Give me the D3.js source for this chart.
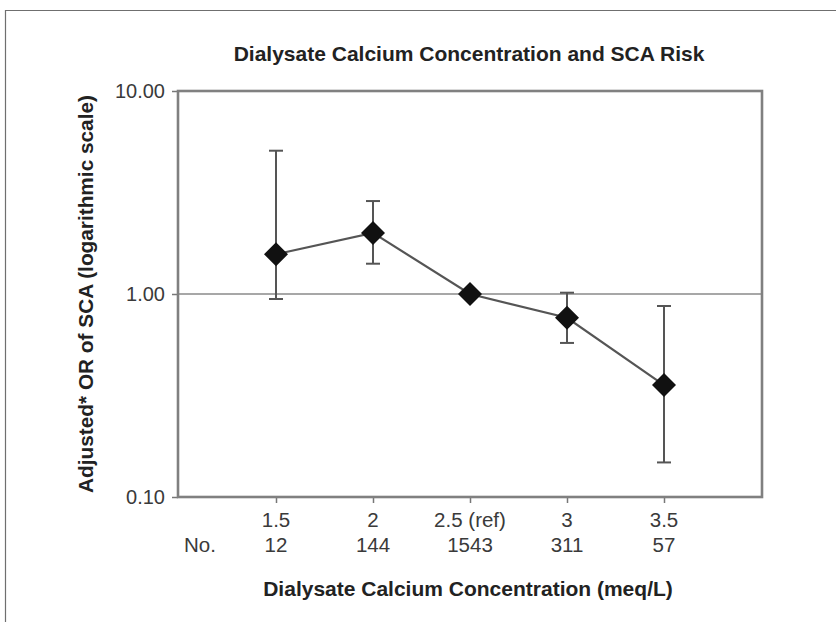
<!DOCTYPE html>
<html><head><meta charset="utf-8">
<script src="https://cdn.jsdelivr.net/npm/d3@7"></script>
<style>body{margin:0;background:#fff}svg{display:block}</style>
</head><body>
<script>
const categories = [1.5, 2, 2.5, 3, 3.5];
const catLabels = ["1.5", "2", "2.5 (ref)", "3", "3.5"];
const counts = ["12", "144", "1543", "311", "57"];
const orValues = [1.57, 2.0, 1.0, 0.764, 0.356];
const lowerCI = [0.945, 1.41, null, 0.574, 0.148];
const upperCI = [5.08, 2.87, null, 1.015, 0.873];
const yTicks = [0.1, 1, 10];

const W = 836, H = 622;
const box = {left: 178, right: 762, top: 91, bottom: 497};
const font = "'Liberation Sans', Arial, Helvetica, sans-serif";

const svg = d3.select("body").append("svg").attr("width", W).attr("height", H);

// outer frame (top + left)
svg.append("path").attr("d", `M5.5,${H} V10.5 H${W}`).attr("fill", "none")
  .attr("stroke", "#6f6f6f").attr("stroke-width", 1.2);

const x = d3.scaleLinear().domain([1, 4]).range([box.left + 1, box.right - 1]);
const y = d3.scaleLog().domain([0.1, 10]).range([box.bottom, box.top]);

// reference line at 1
svg.append("line").attr("x1", box.left).attr("x2", box.right)
  .attr("y1", y(1)).attr("y2", y(1)).attr("stroke", "#8a8a8a").attr("stroke-width", 1.6);

// y axis
const yAxis = d3.axisLeft(y).tickValues(yTicks).tickFormat(d3.format(".2f")).tickSize(6).tickPadding(7);
const gy = svg.append("g").attr("transform", `translate(${box.left},0)`).call(yAxis);
gy.select(".domain").remove();
gy.selectAll(".tick line").attr("stroke", "#777").attr("stroke-width", 1.5);
gy.selectAll(".tick text").attr("font-family", font).attr("font-size", 20)
  .attr("fill", "#3a3a3a");

// x axis ticks
const xAxis = d3.axisBottom(x).tickValues(categories).tickFormat("").tickSize(6);
const gx = svg.append("g").attr("transform", `translate(0,${box.bottom})`).call(xAxis);
gx.select(".domain").remove();
gx.selectAll(".tick line").attr("stroke", "#777").attr("stroke-width", 1.5);

// plot box
svg.append("rect").attr("x", box.left).attr("y", box.top)
  .attr("width", box.right - box.left).attr("height", box.bottom - box.top)
  .attr("fill", "none").attr("stroke", "#808080").attr("stroke-width", 2.6);

// category labels
svg.append("g").selectAll("text").data(categories).join("text")
  .attr("x", d => x(d)).attr("y", 527).attr("text-anchor", "middle")
  .attr("font-family", font).attr("font-size", 20.5).attr("fill", "#3a3a3a")
  .text((d, i) => catLabels[i]);
svg.append("g").selectAll("text").data(categories).join("text")
  .attr("x", d => x(d)).attr("y", 552).attr("text-anchor", "middle")
  .attr("font-family", font).attr("font-size", 20.5).attr("fill", "#3a3a3a")
  .text((d, i) => counts[i]);
svg.append("text").attr("x", 200).attr("y", 552).attr("text-anchor", "middle")
  .attr("font-family", font).attr("font-size", 20.5).attr("fill", "#3a3a3a").text("No.");

// error bars
const eb = categories.map((c, i) => ({c, lo: lowerCI[i], hi: upperCI[i]})).filter(d => d.lo != null);
const ebg = svg.append("g").attr("stroke", "#555").attr("stroke-width", 2).attr("fill", "none");
ebg.selectAll("line.v").data(eb).join("line").attr("class", "v")
  .attr("x1", d => x(d.c)).attr("x2", d => x(d.c)).attr("y1", d => y(d.lo)).attr("y2", d => y(d.hi));
ebg.selectAll("line.t").data(eb).join("line").attr("class", "t")
  .attr("x1", d => x(d.c) - 7).attr("x2", d => x(d.c) + 7).attr("y1", d => y(d.hi)).attr("y2", d => y(d.hi));
ebg.selectAll("line.b").data(eb).join("line").attr("class", "b")
  .attr("x1", d => x(d.c) - 7).attr("x2", d => x(d.c) + 7).attr("y1", d => y(d.lo)).attr("y2", d => y(d.lo));

// connecting line
const pts = categories.map((c, i) => [c, orValues[i]]);
svg.append("path").datum(pts)
  .attr("d", d3.line().x(d => x(d[0])).y(d => y(d[1])))
  .attr("fill", "none").attr("stroke", "#555").attr("stroke-width", 2.2);

// diamonds
svg.append("g").selectAll("path").data(pts).join("path")
  .attr("transform", d => `translate(${x(d[0])},${y(d[1])})`)
  .attr("d", "M0,-12 L12,0 L0,12 L-12,0 Z").attr("fill", "#111");

// titles
svg.append("text").attr("x", 469).attr("y", 61).attr("text-anchor", "middle")
  .attr("font-family", font).attr("font-size", 21).attr("font-weight", "bold").attr("fill", "#222")
  .text("Dialysate Calcium Concentration and SCA Risk");
svg.append("text").attr("x", 468).attr("y", 596).attr("text-anchor", "middle")
  .attr("font-family", font).attr("font-size", 21).attr("font-weight", "bold").attr("fill", "#222")
  .text("Dialysate Calcium Concentration (meq/L)");
svg.append("text").attr("transform", `translate(93,${(box.top + box.bottom) / 2}) rotate(-90)`)
  .attr("text-anchor", "middle")
  .attr("font-family", font).attr("font-size", 20.8).attr("font-weight", "bold").attr("fill", "#222")
  .text("Adjusted* OR of SCA (logarithmic scale)");
</script>
</body></html>
